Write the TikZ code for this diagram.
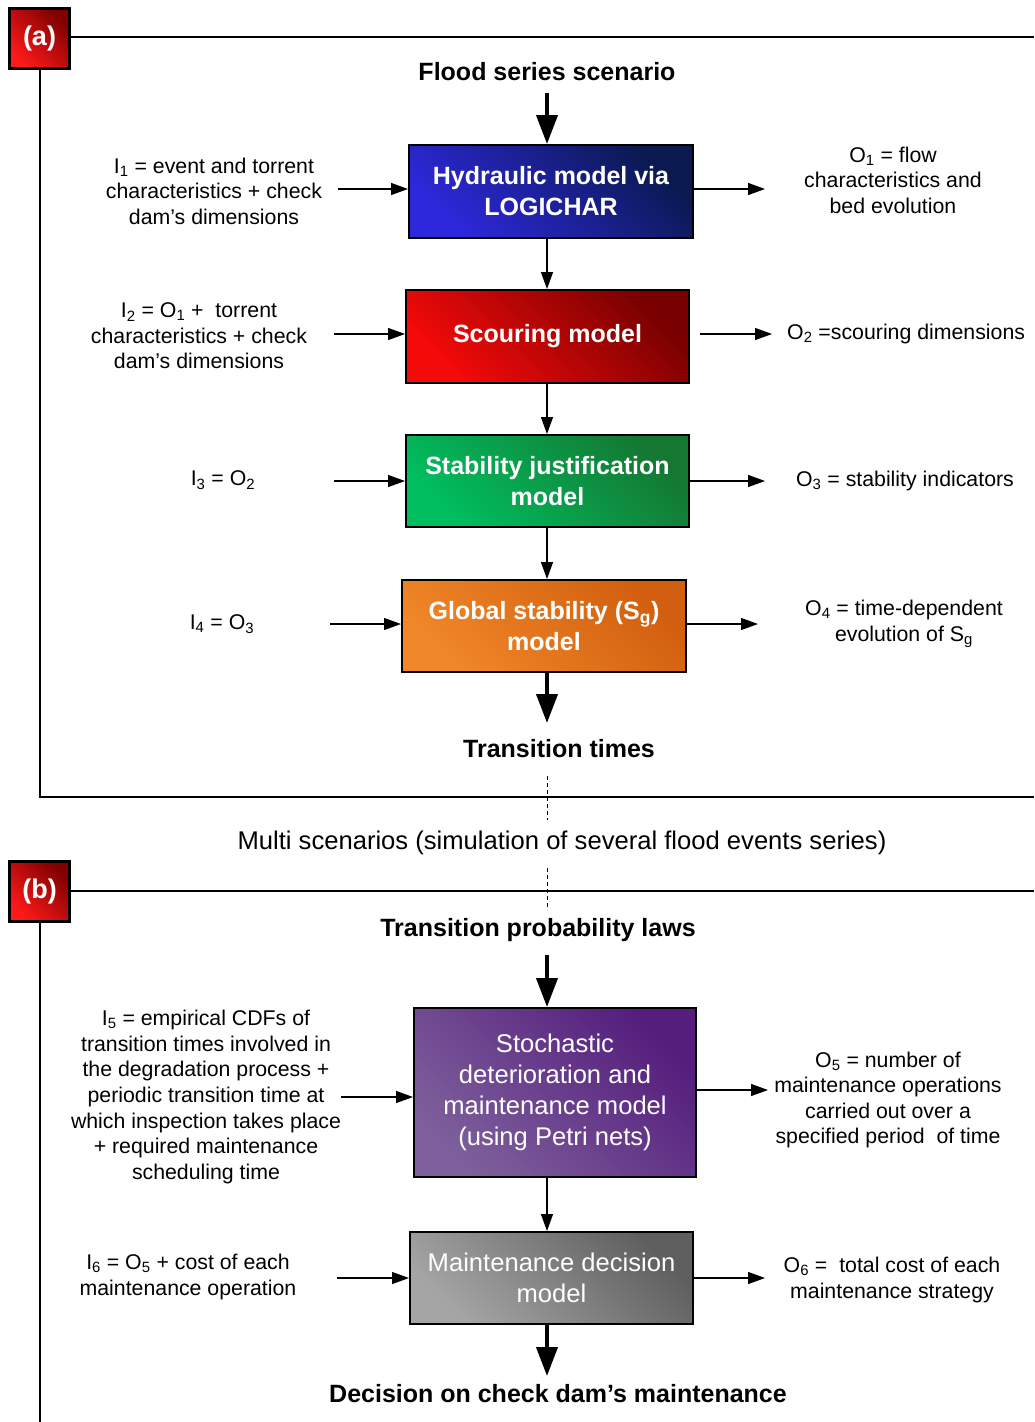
\documentclass[tikz,border=0pt]{standalone}
\usepackage{fontspec}
\setmainfont{Liberation Sans}
\usetikzlibrary{arrows.meta}
\begin{document}
\begin{tikzpicture}[x=1pt,y=-1pt,
  thinarr/.style={line width=1.2pt,-{Triangle[length=17pt,width=12pt]}},
  thickarr/.style={line width=4pt,-{Triangle[length=29pt,width=21pt]}},
  frame/.style={line width=1.3pt},
  model/.style={draw=black,line width=2pt,minimum width=#1,text=white,align=center,
     shade,shading=axis,inner sep=0pt},
  modelfont/.style={font=\bfseries\fontsize{25}{31}\selectfont},
  plainfont/.style={font=\fontsize{25.6}{31}\selectfont},
  txt/.style={align=center,font=\fontsize{21.3}{25.6}\selectfont,inner sep=0pt},
  head/.style={font=\bfseries\fontsize{25}{28}\selectfont,inner sep=0pt},
  tag/.style={draw=black,line width=2.5pt,minimum width=60pt,minimum height=60pt,inner sep=0pt,
     text=white,font=\bfseries\fontsize{27}{30}\selectfont,
     top color=red!50!black,bottom color=red!90!white,shading angle=-45},
]
\definecolor{bluedark}{RGB}{10,25,80}
\definecolor{bluelight}{RGB}{45,40,220}
\definecolor{reddark}{RGB}{120,0,0}
\definecolor{redlight}{RGB}{245,10,10}
\definecolor{greendark}{RGB}{20,120,50}
\definecolor{greenlight}{RGB}{0,190,95}
\definecolor{orangedark}{RGB}{210,95,15}
\definecolor{orangelight}{RGB}{240,135,40}
\definecolor{purpledark}{RGB}{85,30,125}
\definecolor{purplelight}{RGB}{125,95,155}
\definecolor{graydark}{RGB}{95,95,95}
\definecolor{graylight}{RGB}{165,165,165}

\useasboundingbox (0,0) rectangle (1034,1422);
\fill[white] (0,0) rectangle (1034,1422);

\coordinate (ax) at (547,0);

% ---------- panel (a) ----------
\node[tag] (taga) at (39.5,38.5) {(a)};
\coordinate (fa1) at (1034,37);
\coordinate (fa2) at (40,797);
\coordinate (fa3) at (1034,797);
\draw[frame] (taga.east |- fa1) -- (fa1);
\draw[frame] (taga.south -| fa2) -- (fa2) -- (fa3);

\node[head] (flood) at (547,72) {Flood series scenario};

\node[model=284pt,minimum height=93pt,modelfont,top color=bluedark,bottom color=bluelight,shading angle=-45]
  (b1) at (551,191.5) {Hydraulic model via\\LOGICHAR};
\node[model=283pt,minimum height=93pt,modelfont,top color=reddark,bottom color=redlight,shading angle=-45]
  (b2) at (547.5,336.5) {Scouring model};
\node[model=283pt,minimum height=92pt,modelfont,top color=greendark,bottom color=greenlight,shading angle=-45]
  (b3) at (547.5,481) {Stability justification\\model};
\node[model=284pt,minimum height=92pt,modelfont,top color=orangedark,bottom color=orangelight,shading angle=-45]
  (b4) at (544,626) {Global stability (S\textsubscript{g})\\model};

\node[head] (trans) at (559,749) {Transition times};

\coordinate (fs) at (547,93);
\coordinate (te) at (547,723);
\draw[thickarr] (fs) -- (b1.north -| ax);
\draw[thinarr] (b1.south -| ax) -- (b2.north -| ax);
\draw[thinarr] (b2.south -| ax) -- (b3.north -| ax);
\draw[thinarr] (b3.south -| ax) -- (b4.north -| ax);
\draw[thickarr] (b4.south -| ax) -- (te);

\node[txt] (i1) at (214,191) {I\textsubscript{1} = event and torrent\\characteristics + check\\dam’s dimensions};
\node[txt] (o1) at (893,180) {O\textsubscript{1} = flow\\characteristics and\\bed evolution};
\node[txt] (i2) at (199,336) {I\textsubscript{2} = O\textsubscript{1} +\ \ torrent\\characteristics + check\\dam’s dimensions};
\node[txt,anchor=west] (o2) at (787,334) {O\textsubscript{2} =scouring dimensions};
\node[txt] (i3) at (223,480) {I\textsubscript{3} = O\textsubscript{2}};
\node[txt] (o3) at (905,481) {O\textsubscript{3} = stability indicators};
\node[txt] (i4) at (222,624) {I\textsubscript{4} = O\textsubscript{3}};
\node[txt] (o4) at (904,624) {O\textsubscript{4} = time-dependent\\evolution of S\textsubscript{g}};

\coordinate (a1i) at (338,189);
\coordinate (a1o) at (765,189);
\coordinate (a2i) at (334,334);
\coordinate (a2s) at (700,334);
\coordinate (a2o) at (772,334);
\coordinate (a3i) at (334,481);
\coordinate (a3o) at (765,481);
\coordinate (a4i) at (330,624);
\coordinate (a4o) at (758,624);
\draw[thinarr] (a1i) -- (a1i -| b1.west);
\draw[thinarr] (a1i -| b1.east) -- (a1o);
\draw[thinarr] (a2i) -- (a2i -| b2.west);
\draw[thinarr] (a2s) -- (a2o);
\draw[thinarr] (a3i) -- (a3i -| b3.west);
\draw[thinarr] (a3o -| b3.east) -- (a3o);
\draw[thinarr] (a4i) -- (a4i -| b4.west);
\draw[thinarr] (a4o -| b4.east) -- (a4o);

% ---------- between ----------
\node[font=\fontsize{25.6}{28}\selectfont,inner sep=0pt] (multi) at (562,843) {Multi scenarios (simulation of several flood events series)};
\coordinate (d1) at (547,776);
\coordinate (d2) at (547,820);
\coordinate (d3) at (547,868);
\coordinate (d4) at (547,910);
\draw[line width=1pt,dash pattern=on 4pt off 3pt] (d1) -- (d2);
\draw[line width=1pt,dash pattern=on 4pt off 3pt] (d3) -- (d4);

% ---------- panel (b) ----------
\node[tag] (tagb) at (39.5,891.5) {(b)};
\coordinate (fb1) at (1034,891);
\coordinate (fb2) at (40,1422);
\draw[frame] (tagb.east |- fb1) -- (fb1);
\draw[frame] (tagb.south -| fb2) -- (fb2);

\node[head] (laws) at (538,930) {Transition probability laws};

\node[model=282pt,minimum height=169pt,plainfont,top color=purpledark,bottom color=purplelight,shading angle=-45]
  (b5) at (555,1092.5) {Stochastic\\deterioration and\\maintenance model\\(using Petri nets)};
\node[model=283pt,minimum height=92pt,plainfont,top color=graydark,bottom color=graylight,shading angle=-45]
  (b6) at (551.5,1278) {Maintenance decision\\model};

\node[head] (decision) at (558,1394) {Decision on check dam’s maintenance};

\coordinate (ls) at (547,955);
\coordinate (de) at (547,1376);
\draw[thickarr] (ls) -- (b5.north -| ax);
\draw[thinarr] (b5.south -| ax) -- (b6.north -| ax);
\draw[thickarr] (b6.south -| ax) -- (de);

\node[txt] (i5) at (206,1097) {I\textsubscript{5} = empirical CDFs of\\transition times involved in\\the degradation process +\\periodic transition time at\\which inspection takes place\\+ required maintenance\\scheduling time};
\node[txt] (o5) at (888,1100) {O\textsubscript{5} = number of\\maintenance operations\\carried out over a\\specified period\ \ of time};
\node[txt] (i6) at (188,1277) {I\textsubscript{6} = O\textsubscript{5} + cost of each\\maintenance operation};
\node[txt] (o6) at (892,1280) {O\textsubscript{6} =\ \ total cost of each\\maintenance strategy};

\coordinate (a5i) at (341,1097);
\coordinate (a5o) at (768,1090);
\coordinate (a6i) at (337,1278);
\coordinate (a6o) at (765,1278);
\draw[thinarr] (a5i) -- (a5i -| b5.west);
\draw[thinarr] (a5o -| b5.east) -- (a5o);
\draw[thinarr] (a6i) -- (a6i -| b6.west);
\draw[thinarr] (a6o -| b6.east) -- (a6o);
\end{tikzpicture}
\end{document}
